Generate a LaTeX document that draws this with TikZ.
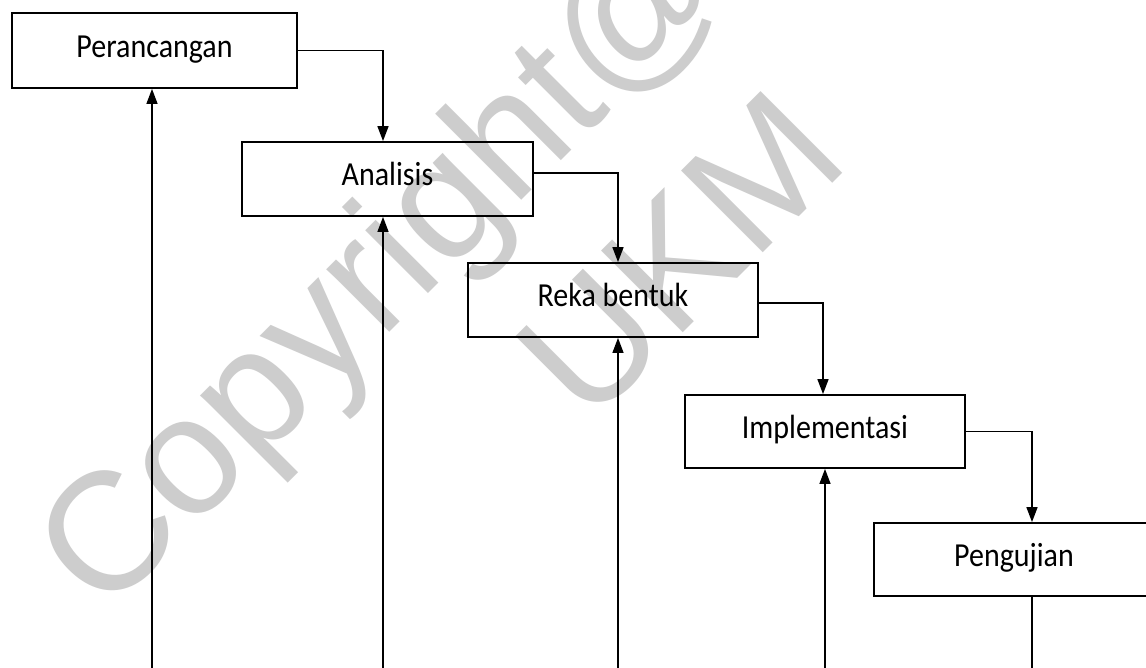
\documentclass[tikz,border=0pt]{standalone}
\usepackage{fontspec}
\setmainfont{Carlito}
\newfontfamily\wmfont{Liberation Sans}
\usetikzlibrary{arrows.meta,calc}
\definecolor{wmgray}{RGB}{205,205,205}
\newcommand{\lbl}[1]{\scalebox{1}[1.12]{#1}}
\begin{document}
\begin{tikzpicture}[x=1pt,y=-1pt,
  box/.style={draw=black,line width=1.8pt,rectangle,inner sep=0pt,
    font=\fontsize{30}{30}\selectfont,text height=22pt,text depth=8pt},
  flow/.style={line width=1.5pt,-{Triangle[width=11pt,length=15pt]}},
  back/.style={line width=1.3pt,-{Triangle[width=11pt,length=15pt]}},
  plain/.style={line width=1.3pt},
  wm/.style={text=wmgray,inner sep=0pt,rotate=45,anchor=base west,
    font=\wmfont\fontsize{168}{168}\selectfont}]
\useasboundingbox (0,0) rectangle (1146,668);
\clip (0,0) rectangle (1146,668);
\fill[white] (0,0) rectangle (1146,668);
% watermark
\node[wm] (wm1) at (104,618) {Copyright@};
\node[wm] (wm2) at (588,428) {UKM};
% boxes
\node[box,minimum width=285pt,minimum height=75pt] (b1) at (154.5,50.5) {\lbl{Perancangan}};
\node[box,minimum width=291pt,minimum height=74pt] (b2) at (387.5,179) {\lbl{Analisis}};
\node[box,minimum width=290pt,minimum height=74pt] (b3) at (613,300) {\lbl{Reka bentuk}};
\node[box,minimum width=280pt,minimum height=73pt] (b4) at (825,431.5) {\lbl{Implementasi}};
\node[box,minimum width=280pt,minimum height=73pt] (b5) at (1014,559.5) {\lbl{Pengujian}};
% forward connectors
\draw[flow] (b1.east) -| ([xshift=-4.5pt]b2.north);
\draw[flow] ([yshift=6pt]b2.east) -| ([xshift=5pt]b3.north);
\draw[flow] ([yshift=-3pt]b3.east) -| ([xshift=-2pt]b4.north);
\draw[flow] (b4.east) -| ([xshift=18pt]b5.north);
% feedback lines from the bottom
\coordinate (f1) at (152,672);
\coordinate (f2) at (383,672);
\coordinate (f3) at (618,672);
\coordinate (f4) at (825,672);
\coordinate (f5) at (1032,672);
\draw[back] (f1) -- (f1 |- b1.south);
\draw[back] (f2) -- (f2 |- b2.south);
\draw[back] (f3) -- (f3 |- b3.south);
\draw[back] (f4) -- (f4 |- b4.south);
\draw[plain] (f5 |- b5.south) -- (f5);
\end{tikzpicture}
\end{document}
